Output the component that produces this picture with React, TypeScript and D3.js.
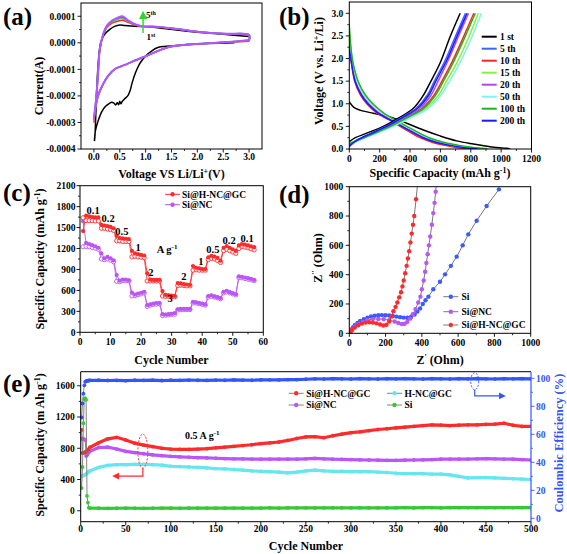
import React from 'react';
import * as d3 from 'd3';

const FONT = "'Liberation Serif','Times New Roman',Times,serif";
type Pt = [number, number];
const zip = (xs: number[], ys: number[]): Pt[] => xs.map((x, i) => [x, ys[i]] as Pt);

// ---------------- (a) cyclic voltammetry ----------------
const aTicksX = [0, 0.5, 1, 1.5, 2, 2.5, 3];
const aTicksY = [-0.0004, -0.0003, -0.0002, -0.0001, 0, 0.0001];
const cvCycle1: Pt[] = [
  [2.72, 0.0], [2.2, -0.03e-4], [1.7, -0.08e-4], [1.4, -0.13e-4], [1.25, -0.17e-4], [1.12, -0.3e-4],
  [1.0, -0.5e-4], [0.88, -0.8e-4], [0.8, -1.15e-4], [0.74, -1.5e-4], [0.7, -1.8e-4], [0.66, -1.98e-4],
  [0.6, -2.1e-4], [0.55, -2.2e-4], [0.52, -2.3e-4], [0.5, -2.2e-4], [0.48, -2.33e-4], [0.45, -2.26e-4],
  [0.42, -2.34e-4], [0.38, -2.26e-4], [0.34, -2.24e-4], [0.3, -2.28e-4], [0.22, -2.4e-4], [0.15, -2.6e-4],
  [0.08, -2.95e-4], [0.03, -3.3e-4], [0.01, -3.7e-4],
  [0.02, -3.5e-4], [0.04, -2.5e-4], [0.06, -1.5e-4], [0.09, -0.6e-4], [0.13, 0.0], [0.2, 0.3e-4],
  [0.3, 0.5e-4], [0.4, 0.62e-4], [0.5, 0.67e-4], [0.6, 0.65e-4], [0.8, 0.62e-4], [1.0, 0.61e-4],
  [1.3, 0.55e-4], [1.6, 0.48e-4], [2.0, 0.4e-4], [2.5, 0.32e-4], [3.0, 0.24e-4],
];
const cvCycle2: Pt[] = [
  [3.0, 0.06e-4], [2.72, 0.03e-4], [2.21, -0.02e-4], [1.76, -0.08e-4], [1.44, -0.17e-4], [1.18, -0.36e-4],
  [0.99, -0.52e-4], [0.79, -0.67e-4], [0.6, -0.83e-4], [0.41, -0.98e-4], [0.28, -1.24e-4], [0.18, -1.56e-4],
  [0.08, -2.02e-4], [0.03, -2.5e-4], [0.0, -3.0e-4],
  [0.01, -2.8e-4], [0.04, -2.25e-4], [0.08, -1.25e-4], [0.11, -0.35e-4], [0.18, 0.28e-4], [0.25, 0.58e-4],
  [0.35, 0.74e-4], [0.45, 0.81e-4], [0.55, 0.85e-4], [0.65, 0.78e-4], [0.78, 0.68e-4], [0.94, 0.61e-4],
  [1.2, 0.6e-4], [1.58, 0.52e-4], [2.1, 0.4e-4], [2.55, 0.33e-4], [3.0, 0.27e-4], [3.0, 0.06e-4],
];
const cvCycle3: Pt[] = [
  [3.0, 0.09e-4], [2.72, 0.04e-4], [2.21, -0.015e-4], [1.76, -0.075e-4], [1.44, -0.165e-4], [1.18, -0.35e-4],
  [0.99, -0.515e-4], [0.79, -0.665e-4], [0.6, -0.83e-4], [0.41, -0.98e-4], [0.28, -1.23e-4], [0.18, -1.55e-4],
  [0.08, -2.0e-4], [0.03, -2.45e-4], [0.0, -2.9e-4],
  [0.01, -2.7e-4], [0.04, -2.1e-4], [0.08, -1.1e-4], [0.11, -0.3e-4], [0.18, 0.32e-4], [0.25, 0.62e-4],
  [0.35, 0.79e-4], [0.45, 0.88e-4], [0.55, 0.92e-4], [0.65, 0.82e-4], [0.78, 0.7e-4], [0.94, 0.62e-4],
  [1.2, 0.61e-4], [1.58, 0.53e-4], [2.1, 0.4e-4], [2.55, 0.34e-4], [3.0, 0.29e-4], [3.0, 0.09e-4],
];
const cvCycle4: Pt[] = [
  [3.0, 0.1e-4], [2.72, 0.05e-4], [2.21, -0.015e-4], [1.76, -0.075e-4], [1.44, -0.165e-4], [1.18, -0.35e-4],
  [0.99, -0.515e-4], [0.79, -0.665e-4], [0.6, -0.83e-4], [0.41, -0.98e-4], [0.28, -1.23e-4], [0.18, -1.54e-4],
  [0.08, -1.98e-4], [0.03, -2.43e-4], [0.0, -2.87e-4],
  [0.01, -2.68e-4], [0.04, -2.15e-4], [0.08, -1.15e-4], [0.11, -0.29e-4], [0.18, 0.33e-4], [0.25, 0.64e-4],
  [0.35, 0.82e-4], [0.45, 0.92e-4], [0.55, 0.96e-4], [0.65, 0.85e-4], [0.78, 0.71e-4], [0.94, 0.62e-4],
  [1.2, 0.61e-4], [1.58, 0.53e-4], [2.1, 0.4e-4], [2.55, 0.34e-4], [3.0, 0.3e-4], [3.0, 0.1e-4],
];
const cvCycle5: Pt[] = [
  [3.0, 0.11e-4], [2.72, 0.05e-4], [2.21, -0.015e-4], [1.76, -0.075e-4], [1.44, -0.165e-4], [1.18, -0.35e-4],
  [0.99, -0.515e-4], [0.79, -0.665e-4], [0.6, -0.83e-4], [0.41, -0.98e-4], [0.28, -1.23e-4], [0.18, -1.54e-4],
  [0.08, -1.98e-4], [0.03, -2.42e-4], [0.0, -2.86e-4],
  [0.01, -2.67e-4], [0.04, -2.17e-4], [0.08, -1.17e-4], [0.11, -0.29e-4], [0.18, 0.34e-4], [0.25, 0.65e-4],
  [0.35, 0.84e-4], [0.45, 0.94e-4], [0.55, 1.0e-4], [0.65, 0.86e-4], [0.78, 0.71e-4], [0.94, 0.62e-4],
  [1.2, 0.61e-4], [1.58, 0.53e-4], [2.1, 0.4e-4], [2.55, 0.34e-4], [3.0, 0.3e-4], [3.0, 0.11e-4],
];

// ---------------- (b) charge / discharge profiles ----------------
const bTicksX = [0, 200, 400, 600, 800, 1000, 1200];
const bTicksY = [0, 0.5, 1, 1.5, 2, 2.5, 3];
const bLabels = ['1 st', '5 th', '10 th', '15 th', '20 th', '50 th', '100 th', '200 th'];
const bDis1: Pt[] = [[0, 1.05], [5, 1.02], [30, 0.92], [70, 0.86], [158, 0.79], [268, 0.71], [378, 0.57], [488, 0.42], [598, 0.29], [708, 0.18], [817, 0.11], [927, 0.05], [1037, 0.015], [1060, 0.0]];
const bDis5: Pt[] = [[0, 2.3], [12, 2.0], [40, 1.5], [80, 1.2], [125, 1.0], [190, 0.8], [300, 0.6], [410, 0.4], [500, 0.25], [590, 0.15], [690, 0.08], [790, 0.03], [870, 0.005]];
const bDis10: Pt[] = [[0, 2.25], [10, 2.0], [35, 1.5], [72, 1.2], [115, 1.0], [180, 0.8], [285, 0.6], [385, 0.4], [465, 0.25], [545, 0.15], [630, 0.08], [710, 0.03], [800, 0.005]];
const bDis15: Pt[] = [[0, 2.6], [18, 2.0], [55, 1.5], [100, 1.2], [150, 1.0], [220, 0.8], [320, 0.6], [430, 0.4], [520, 0.25], [610, 0.15], [710, 0.08], [810, 0.03], [900, 0.005]];
const bDis20: Pt[] = [[0, 2.3], [12, 2.0], [42, 1.5], [82, 1.2], [128, 1.0], [195, 0.8], [300, 0.6], [405, 0.4], [490, 0.25], [575, 0.15], [670, 0.08], [760, 0.03], [850, 0.005]];
const bDis50: Pt[] = [[0, 2.5], [15, 2.0], [50, 1.5], [95, 1.2], [145, 1.0], [215, 0.8], [315, 0.6], [425, 0.4], [515, 0.25], [600, 0.15], [700, 0.08], [800, 0.03], [890, 0.005]];
const bDis100: Pt[] = [[0, 2.75], [20, 2.0], [58, 1.5], [105, 1.2], [155, 1.0], [225, 0.8], [325, 0.6], [435, 0.4], [525, 0.25], [620, 0.15], [725, 0.08], [830, 0.03], [910, 0.005]];
const bDis200: Pt[] = [[0, 2.2], [10, 2.0], [38, 1.5], [78, 1.2], [122, 1.0], [188, 0.8], [295, 0.6], [400, 0.4], [485, 0.25], [570, 0.15], [665, 0.08], [755, 0.03], [845, 0.005]];
const bCha1: Pt[] = [[0, 0.16], [40, 0.25], [115, 0.35], [224, 0.5], [323, 0.68], [422, 0.9], [490, 1.2], [530, 1.45], [598, 1.9], [664, 2.48], [730, 3.0]];
const bCha5: Pt[] = [[0, 0.08], [50, 0.2], [130, 0.33], [240, 0.5], [345, 0.7], [440, 0.9], [515, 1.2], [560, 1.5], [630, 1.95], [700, 2.5], [765, 3.0]];
const bCha10: Pt[] = [[0, 0.1], [60, 0.2], [150, 0.33], [265, 0.5], [380, 0.7], [480, 0.9], [560, 1.2], [610, 1.5], [680, 1.95], [755, 2.5], [820, 3.0]];
const bCha15: Pt[] = [[0, 0.1], [65, 0.2], [160, 0.33], [280, 0.5], [395, 0.7], [505, 0.9], [590, 1.2], [640, 1.5], [715, 1.95], [790, 2.5], [850, 3.0]];
const bCha20: Pt[] = [[0, 0.05], [60, 0.2], [145, 0.33], [255, 0.5], [365, 0.7], [465, 0.9], [540, 1.2], [585, 1.5], [650, 1.95], [720, 2.5], [785, 3.0]];
const bCha50: Pt[] = [[0, 0.08], [70, 0.2], [170, 0.33], [290, 0.5], [410, 0.7], [520, 0.9], [605, 1.2], [660, 1.5], [735, 1.95], [810, 2.5], [870, 3.0]];
const bCha100: Pt[] = [[0, 0.12], [60, 0.2], [155, 0.33], [270, 0.5], [385, 0.7], [490, 0.9], [570, 1.2], [620, 1.5], [690, 1.95], [765, 2.5], [830, 3.0]];
const bCha200: Pt[] = [[0, 0.07], [55, 0.2], [135, 0.33], [245, 0.5], [352, 0.7], [450, 0.9], [525, 1.2], [570, 1.5], [640, 1.95], [710, 2.5], [775, 3.0]];
const bDischarge = [bDis1, bDis5, bDis10, bDis15, bDis20, bDis50, bDis100, bDis200];
const bCharge = [bCha1, bCha5, bCha10, bCha15, bCha20, bCha50, bCha100, bCha200];
const bColors = ['#000000', '#3f63ff', '#ff2424', '#86f23a', '#b247f2', '#7ef2f2', '#22b322', '#1a1aff'];

// ---------------- (c) rate capability ----------------
const cTicksX = [0, 10, 20, 30, 40, 50, 60];
const cTicksY = [0, 300, 600, 900, 1200, 1500, 1800, 2100];
const cCycles = d3.range(1, 58);
const cHNCDis = [1450, 1670, 1660, 1650, 1645, 1645, 1540, 1530, 1520, 1510, 1490, 1380, 1350, 1345, 1340, 1335, 1165, 1130, 1120, 1110, 1100, 845, 755, 750, 750, 750, 590, 535, 530, 525, 520, 705, 700, 690, 685, 680, 950, 925, 915, 905, 905, 1075, 1095, 1085, 1065, 1025, 1210, 1235, 1210, 1190, 1165, 1245, 1265, 1255, 1245, 1230, 1220];
const cHNCCha = [1640, 1600, 1600, 1600, 1595, 1595, 1490, 1490, 1480, 1470, 1460, 1310, 1310, 1300, 1300, 1300, 1080, 1090, 1080, 1075, 1070, 735, 735, 735, 735, 735, 520, 515, 515, 510, 510, 670, 675, 670, 665, 665, 890, 895, 890, 890, 890, 1040, 1060, 1050, 1030, 1000, 1170, 1190, 1170, 1150, 1130, 1200, 1230, 1220, 1210, 1195, 1180];
const cNCDis = [1590, 1280, 1265, 1250, 1230, 1210, 1130, 1060, 1080, 1060, 1030, 820, 740, 755, 755, 745, 570, 540, 555, 565, 580, 390, 400, 410, 420, 420, 260, 255, 260, 265, 275, 330, 335, 335, 335, 335, 435, 430, 420, 410, 400, 520, 530, 515, 505, 490, 580, 595, 575, 560, 545, 800, 795, 785, 775, 765, 750];
const cNCCha = [1225, 1230, 1225, 1215, 1205, 1190, 1050, 1040, 1050, 1035, 1010, 730, 725, 740, 740, 735, 520, 525, 540, 550, 565, 370, 390, 400, 405, 410, 240, 245, 250, 255, 260, 320, 325, 325, 325, 325, 420, 420, 410, 400, 390, 505, 515, 505, 495, 480, 565, 580, 565, 550, 535, 785, 780, 770, 760, 750, 740];
const cRateText = ['0.1', '0.2', '0.5', '1', '2', '3', '2', '1', '0.5', '0.2', '0.1'];
const cRateAtCycle = [4.3, 9.2, 13.7, 19, 23.2, 29.5, 34, 39.6, 43.5, 48.8, 54.7];
const cRateAtCap = [1742, 1623, 1451, 1208, 854, 491, 797, 1011, 1193, 1322, 1337];

// ---------------- (d) Nyquist ----------------
const dTicks = [0, 200, 400, 600, 800, 1000];
const dSiRe = [5, 10, 20, 30, 45, 60, 80, 100, 120, 140, 160, 180, 200, 220, 240, 260, 280, 300, 320, 340, 360, 375, 390, 405, 420, 436, 463, 500, 528, 560, 592, 625, 656, 702, 757, 825];
const dSiIm = [10, 25, 40, 55, 70, 85, 97, 107, 115, 120, 123, 124, 123, 121, 118, 114, 110, 107, 106, 112, 128, 148, 170, 200, 225, 250, 300, 352, 402, 460, 523, 600, 675, 768, 868, 982];
const dNCRe = [5, 15, 30, 50, 75, 100, 130, 160, 190, 220, 250, 270, 290, 305, 320, 335, 350, 365, 380, 392, 400, 410, 418, 425, 432, 439, 446, 455, 463, 470, 476, 482];
const dNCIm = [10, 25, 45, 62, 78, 90, 97, 98, 96, 90, 80, 70, 63, 65, 78, 100, 130, 165, 210, 250, 300, 360, 420, 480, 540, 600, 660, 740, 820, 890, 966, 1040];
const dHNCRe = [5, 15, 30, 50, 70, 90, 110, 130, 150, 170, 188, 205, 220, 232, 243, 255, 265, 275, 285, 293, 300, 308, 316, 323, 330, 337, 344, 351, 358, 368, 380];
const dHNCIm = [8, 22, 40, 55, 66, 73, 75, 73, 68, 60, 53, 58, 80, 115, 150, 180, 210, 245, 280, 320, 360, 410, 460, 510, 560, 620, 680, 740, 800, 914, 1060];

// ---------------- (e) long cycling ----------------
const eTicksX = [0, 50, 100, 150, 200, 250, 300, 350, 400, 450, 500];
const eTicksL = [0, 400, 800, 1200, 1600];
const eTicksR = [0, 20, 40, 60, 80, 100];
const eCycles = [1, 2, 3, 4, 5, 6, 7, 8, 9, 10, 20, 30, 40, 50, 60, 70, 80, 90, 100, 110, 120, 130, 140, 150, 160, 170, 180, 190, 200, 210, 220, 230, 240, 250, 260, 270, 280, 290, 300, 310, 320, 330, 340, 350, 360, 370, 380, 390, 400, 410, 420, 430, 440, 450, 460, 470, 480, 490, 500];
const eHNC = [1035, 740, 740, 745, 750, 760, 770, 780, 790, 810, 870, 920, 940, 905, 865, 840, 820, 800, 790, 785, 785, 790, 795, 805, 815, 825, 835, 845, 860, 870, 880, 900, 925, 945, 950, 935, 960, 980, 1000, 1010, 1025, 1040, 1050, 1060, 1070, 1080, 1090, 1100, 1095, 1090, 1095, 1100, 1100, 1105, 1110, 1120, 1095, 1080, 1080];
const eNC = [920, 925, 920, 915, 905, 700, 710, 730, 750, 760, 810, 815, 790, 760, 745, 730, 715, 705, 695, 690, 685, 680, 676, 672, 668, 665, 663, 662, 660, 660, 660, 660, 662, 665, 670, 665, 660, 658, 655, 652, 650, 648, 645, 645, 648, 650, 652, 655, 660, 660, 660, 662, 665, 668, 665, 662, 660, 655, 650];
const eHNCGC = [450, 445, 450, 455, 460, 470, 480, 490, 500, 510, 555, 580, 590, 590, 595, 595, 590, 585, 570, 565, 560, 555, 548, 540, 535, 528, 520, 510, 505, 500, 495, 485, 495, 510, 520, 510, 505, 505, 500, 500, 500, 495, 490, 480, 475, 475, 475, 470, 470, 460, 440, 420, 425, 425, 420, 415, 410, 405, 400];
const eSi = [290, 560, 1120, 1430, 1440, 1420, 190, 105, 40, 35, 32, 31, 32, 33, 32, 31, 32, 33, 33, 32, 33, 34, 33, 34, 34, 35, 34, 35, 35, 36, 35, 36, 36, 37, 36, 37, 37, 38, 37, 38, 38, 37, 38, 38, 39, 38, 39, 39, 38, 39, 39, 40, 39, 40, 40, 39, 40, 40, 40];
const eCE = [72, 82, 89, 95, 97.5, 98, 98.2, 98.3, 98.4, 98.5, 98.6, 98.4, 98.5, 98.3, 98.6, 98.5, 98.7, 98.4, 98.6, 98.5, 98.7, 98.6, 98.5, 98.7, 98.6, 98.8, 98.7, 98.6, 98.8, 98.9, 98.8, 99.0, 99.1, 99.3, 99.6, 99.5, 99.7, 99.6, 99.5, 99.7, 99.6, 99.5, 99.7, 99.6, 99.8, 99.6, 99.5, 99.7, 99.6, 99.5, 99.7, 99.6, 99.8, 99.6, 99.5, 99.7, 99.6, 99.7, 99.6];

// ---------------- helpers ----------------
const TXT: React.CSSProperties = { fontFamily: FONT, fontWeight: 700 };

function XAxis({ s, y, ticks, minor, fmt, dy, color = '#000' }: any) {
  return (
    <g>
      {minor.map((t: number, i: number) => (
        <line key={'m' + i} x1={s(t)} x2={s(t)} y1={y} y2={y + 2} stroke={color} strokeWidth={0.8} />
      ))}
      {ticks.map((t: number, i: number) => (
        <g key={'t' + i}>
          <line x1={s(t)} x2={s(t)} y1={y} y2={y + 3.5} stroke={color} strokeWidth={0.9} />
          <text x={s(t)} y={y + dy} textAnchor="middle" fontSize={9.5} fill={color} style={TXT}>{fmt(t)}</text>
        </g>
      ))}
    </g>
  );
}

function YAxis({ s, x, ticks, minor, fmt, gap, color = '#000', side = 'left' }: any) {
  const dir = side === 'left' ? -1 : 1;
  return (
    <g>
      {minor.map((t: number, i: number) => (
        <line key={'m' + i} x1={x} x2={x + dir * 2} y1={s(t)} y2={s(t)} stroke={color} strokeWidth={0.8} />
      ))}
      {ticks.map((t: number, i: number) => (
        <g key={'t' + i}>
          <line x1={x} x2={x + dir * 3.5} y1={s(t)} y2={s(t)} stroke={color} strokeWidth={0.9} />
          <text x={x + dir * gap} y={s(t) + 3.3} textAnchor={side === 'left' ? 'end' : 'start'} fontSize={9.5} fill={color} style={TXT}>{fmt(t)}</text>
        </g>
      ))}
    </g>
  );
}

function VTitle({ x, y, children, color = '#000', size = 12 }: any) {
  return (
    <text transform={`translate(${x},${y}) rotate(-90)`} textAnchor="middle" fontSize={size} fill={color} style={TXT}>{children}</text>
  );
}

function minorBetween(ticks: number[]) {
  const out: number[] = [];
  for (let i = 0; i < ticks.length - 1; i++) out.push((ticks[i] + ticks[i + 1]) / 2);
  return out;
}

export default function App() {
  // ---- scales ----
  const aX = d3.scaleLinear().domain([-0.25, 3.25]).range([81, 262]);
  const aY = d3.scaleLinear().domain([-0.0004, 0.00015]).range([149, 3]);
  const bX = d3.scaleLinear().domain([0, 1200]).range([349.3, 531.5]);
  const bY = d3.scaleLinear().domain([0, 3.25]).range([149, 2]);
  const cX = d3.scaleLinear().domain([0, 60]).range([80, 263.3]);
  const cY = d3.scaleLinear().domain([0, 2100]).range([332.3, 185.7]);
  const dX = d3.scaleLinear().domain([0, 1000]).range([349.3, 530.7]);
  const dY = d3.scaleLinear().domain([0, 1000]).range([333.3, 186.7]);
  const eX = d3.scaleLinear().domain([0, 500]).range([80.7, 531]);
  const eYL = d3.scaleLinear().domain([-140, 1780]).range([521.7, 371.7]);
  const eYR = d3.scaleLinear().domain([-2.4, 104.7]).range([521.7, 371.7]);

  const smooth = (sx: any, sy: any) => d3.line<Pt>().x(d => sx(d[0])).y(d => sy(d[1])).curve(d3.curveCatmullRom.alpha(0.5));
  const straight = (sx: any, sy: any) => d3.line<Pt>().x(d => sx(d[0])).y(d => sy(d[1]));

  const aLine = smooth(aX, aY);
  const bLine = smooth(bX, bY);
  const cLine = straight(cX, cY);
  const dLine = straight(dX, dY);
  const eLineL = straight(eX, eYL);
  const eLineR = straight(eX, eYR);

  const RED = '#ff2b2b';
  const PURPLE = '#bb55f5';
  const BLUE = '#3355ff';
  const CYAN = '#66e6ee';
  const GREEN = '#35c935';

  const box = (sx: any, sy: any, stroke = '#000') => (
    <rect x={sx.range()[0]} y={sy.range()[1]} width={sx.range()[1] - sx.range()[0]} height={sy.range()[0] - sy.range()[1]} fill="none" stroke={stroke} strokeWidth={1} />
  );

  const eSeries = [
    { vals: eHNCGC, color: CYAN },
    { vals: eNC, color: PURPLE },
    { vals: eHNC, color: RED },
    { vals: eSi, color: GREEN },
  ];

  return (
    <svg width={567} height={554} style={{ position: 'absolute', left: 0, top: 0, background: '#fff' }} fontFamily={FONT}>
      <defs>
        <clipPath id="clipA"><rect x={81} y={3} width={181} height={146} /></clipPath>
        <clipPath id="clipB"><rect x={349.3} y={2} width={182.2} height={147} /></clipPath>
        <clipPath id="clipC"><rect x={80} y={185.7} width={183.3} height={146.6} /></clipPath>
        <clipPath id="clipD"><rect x={349.3} y={186.7} width={181.4} height={146.6} /></clipPath>
        <clipPath id="clipE"><rect x={80.7} y={371.7} width={450.3} height={150} /></clipPath>
        <marker id="arrG" markerWidth={6} markerHeight={6} refX={3} refY={3} orient="auto">
          <path d="M0,0 L6,3 L0,6 z" fill="#22dd22" />
        </marker>
        <marker id="arrR" markerWidth={6} markerHeight={6} refX={3} refY={3} orient="auto">
          <path d="M0,0 L6,3 L0,6 z" fill={RED} />
        </marker>
        <marker id="arrB" markerWidth={6} markerHeight={6} refX={3} refY={3} orient="auto">
          <path d="M0,0 L6,3 L0,6 z" fill={BLUE} />
        </marker>
      </defs>
      <rect x={0} y={0} width={567} height={554} fill="#fff" />

      {/* ================= (a) ================= */}
      <text x={3} y={25} fontSize={25} style={TXT}>(a)</text>
      <g clipPath="url(#clipA)">
        {[cvCycle1, cvCycle2, cvCycle3, cvCycle4, cvCycle5].map((c, i) => (
          <path key={i} d={aLine(c) || ''} fill="none" stroke={['#000', '#ff2020', '#33e033', '#4f6bff', '#b455ff'][i]} strokeWidth={i === 4 ? 2 : 1.5} />
        ))}
      </g>
      {box(aX, aY)}
      <XAxis s={aX} y={149} ticks={aTicksX} minor={minorBetween(aTicksX)} fmt={(t: number) => t.toFixed(1)} dy={10.5} />
      <YAxis s={aY} x={81} ticks={aTicksY} minor={minorBetween(aTicksY)} fmt={(t: number) => t.toFixed(4)} gap={5.5} />
      <line x1={aX(0.95)} x2={aX(0.95)} y1={33} y2={15} stroke="#22dd22" strokeWidth={1.4} markerEnd="url(#arrG)" />
      <text x={146} y={18} fontSize={9} style={TXT}>5<tspan dy={-3} fontSize={6}>th</tspan></text>
      <text x={146.5} y={40} fontSize={9} style={TXT}>1<tspan dy={-3} fontSize={6}>st</tspan></text>
      <text x={171.5} y={178} textAnchor="middle" fontSize={12} style={TXT}>
        Voltage VS Li/Li<tspan dy={-4} fontSize={8}>+</tspan><tspan dy={4}>(V)</tspan>
      </text>
      <VTitle x={43} y={86}>Current(A)</VTitle>

      {/* ================= (b) ================= */}
      <text x={279} y={25} fontSize={25} style={TXT}>(b)</text>
      <g clipPath="url(#clipB)">
        {bDischarge.map((c, i) => (
          <path key={'d' + i} d={bLine(c) || ''} fill="none" stroke={bColors[i]} strokeWidth={1.5} />
        ))}
        {bCharge.map((c, i) => (
          <path key={'c' + i} d={bLine(c) || ''} fill="none" stroke={bColors[i]} strokeWidth={1.5} />
        ))}
      </g>
      {box(bX, bY)}
      <XAxis s={bX} y={149} ticks={bTicksX} minor={minorBetween(bTicksX)} fmt={(t: number) => String(t)} dy={12.5} />
      <YAxis s={bY} x={349.3} ticks={bTicksY} minor={minorBetween(bTicksY)} fmt={(t: number) => t.toFixed(1)} gap={6} />
      {bLabels.map((l, i) => (
        <g key={l}>
          <line x1={481.7} x2={496.7} y1={36.7 + 12 * i} y2={36.7 + 12 * i} stroke={bColors[i]} strokeWidth={2} />
          <text x={500} y={40 + 12 * i} fontSize={9.5} style={TXT}>{l}</text>
        </g>
      ))}
      <text x={440} y={177} textAnchor="middle" fontSize={12} style={TXT}>
        Specific Capacity (mAh g<tspan dy={-4} fontSize={8}>-1</tspan><tspan dy={4}>)</tspan>
      </text>
      <VTitle x={323} y={71}>
        Voltage (V vs. Li<tspan dy={-4} fontSize={8}>+</tspan><tspan dy={4}>/Li)</tspan>
      </VTitle>

      {/* ================= (c) ================= */}
      <text x={3} y={201} fontSize={25} style={TXT}>(c)</text>
      <g clipPath="url(#clipC)">
        <path d={cLine(zip(cCycles, cNCCha)) || ''} fill="none" stroke={PURPLE} strokeWidth={0.8} />
        <path d={cLine(zip(cCycles, cNCDis)) || ''} fill="none" stroke={PURPLE} strokeWidth={0.9} />
        {cCycles.map((c, i) => (
          <circle key={'nco' + i} cx={cX(c)} cy={cY(cNCCha[i])} r={2.1} fill="#fff" stroke={PURPLE} strokeWidth={0.9} />
        ))}
        {cCycles.map((c, i) => (
          <circle key={'ncf' + i} cx={cX(c)} cy={cY(cNCDis[i])} r={2.1} fill={PURPLE} />
        ))}
        <path d={cLine(zip(cCycles, cHNCCha)) || ''} fill="none" stroke={RED} strokeWidth={0.8} />
        <path d={cLine(zip(cCycles, cHNCDis)) || ''} fill="none" stroke={RED} strokeWidth={0.9} />
        {cCycles.map((c, i) => (
          <circle key={'ho' + i} cx={cX(c)} cy={cY(cHNCCha[i])} r={2.1} fill="#fff" stroke={RED} strokeWidth={0.9} />
        ))}
        {cCycles.map((c, i) => (
          <circle key={'hf' + i} cx={cX(c)} cy={cY(cHNCDis[i])} r={2.1} fill={RED} />
        ))}
      </g>
      {box(cX, cY)}
      <XAxis s={cX} y={332.3} ticks={cTicksX} minor={minorBetween(cTicksX)} fmt={(t: number) => String(t)} dy={12.5} />
      <YAxis s={cY} x={80} ticks={cTicksY} minor={minorBetween(cTicksY)} fmt={(t: number) => String(t)} gap={4.5} />
      {cRateText.map((t, i) => (
        <text key={'r' + i} x={cX(cRateAtCycle[i])} y={cY(cRateAtCap[i]) + 3.5} textAnchor="middle" fontSize={10.5} style={TXT}>{t}</text>
      ))}
      <text x={cX(28.5)} y={cY(1179) + 3.5} textAnchor="middle" fontSize={10.5} style={TXT}>
        A g<tspan dy={-4} fontSize={7}>-1</tspan>
      </text>
      {[{ l: 'Si@H-NC@GC', c: RED, y: 194.3 }, { l: 'Si@NC', c: PURPLE, y: 204.7 }].map(e => (
        <g key={e.l}>
          <line x1={165} x2={180} y1={e.y} y2={e.y} stroke={e.c} strokeWidth={1} />
          <circle cx={172.5} cy={e.y} r={2.2} fill={e.c} />
          <text x={182} y={e.y + 3.3} fontSize={9.5} style={TXT}>{e.l}</text>
        </g>
      ))}
      <text x={171.5} y={364} textAnchor="middle" fontSize={12} style={TXT}>Cycle Number</text>
      <VTitle x={44} y={259}>
        Specific Capacity (mAh g<tspan dy={-4} fontSize={8}>-1</tspan><tspan dy={4}>)</tspan>
      </VTitle>

      {/* ================= (d) ================= */}
      <text x={279} y={203} fontSize={25} style={TXT}>(d)</text>
      <g clipPath="url(#clipD)">
        {[
          { re: dSiRe, im: dSiIm, c: '#3a5bff' },
          { re: dNCRe, im: dNCIm, c: PURPLE },
          { re: dHNCRe, im: dHNCIm, c: RED },
        ].map((s, k) => (
          <g key={k}>
            <path d={dLine(zip(s.re, s.im)) || ''} fill="none" stroke="#555" strokeWidth={0.8} />
            {s.re.map((r, i) => (
              <circle key={i} cx={dX(r)} cy={dY(s.im[i])} r={2.2} fill={s.c} />
            ))}
          </g>
        ))}
      </g>
      {box(dX, dY)}
      <XAxis s={dX} y={333.3} ticks={dTicks} minor={minorBetween(dTicks)} fmt={(t: number) => String(t)} dy={12.5} />
      <YAxis s={dY} x={349.3} ticks={dTicks} minor={minorBetween(dTicks)} fmt={(t: number) => String(t)} gap={6} />
      {[{ l: 'Si', c: '#3a5bff', y: 296.7 }, { l: 'Si@NC', c: PURPLE, y: 311.7 }, { l: 'Si@H-NC@GC', c: RED, y: 325 }].map(e => (
        <g key={e.l}>
          <line x1={443.3} x2={458.3} y1={e.y} y2={e.y} stroke="#555" strokeWidth={0.8} />
          <circle cx={450.8} cy={e.y} r={2.2} fill={e.c} />
          <text x={461.5} y={e.y + 3.3} fontSize={9.5} style={TXT}>{e.l}</text>
        </g>
      ))}
      <text x={440} y={364} textAnchor="middle" fontSize={12} style={TXT}>
        Z<tspan dy={-4} fontSize={8}>'</tspan><tspan dy={4}> (Ohm)</tspan>
      </text>
      <VTitle x={322} y={258}>
        Z<tspan dy={-4} fontSize={8}>''</tspan><tspan dy={4}> (Ohm)</tspan>
      </VTitle>

      {/* ================= (e) ================= */}
      <text x={3} y={392} fontSize={25} style={TXT}>(e)</text>
      <g clipPath="url(#clipE)">
        {eSeries.map((s, k) => (
          <g key={k}>
            <path d={eLineL(zip(eCycles, s.vals)) || ''} fill="none" stroke="#777" strokeWidth={0.9} />
            <path d={eLineL(zip(eCycles.slice(9), s.vals.slice(9))) || ''} fill="none" stroke={s.color} strokeWidth={3.2} />
            {eCycles.map((c, i) => (
              <circle key={i} cx={eX(c)} cy={eYL(s.vals[i])} r={1.9} fill={s.color} />
            ))}
          </g>
        ))}
        <path d={eLineR(zip(eCycles, eCE)) || ''} fill="none" stroke="#777" strokeWidth={0.9} />
        <path d={eLineR(zip(eCycles.slice(4), eCE.slice(4))) || ''} fill="none" stroke={BLUE} strokeWidth={3.2} />
        {eCycles.map((c, i) => (
          <circle key={'ce' + i} cx={eX(c)} cy={eYR(eCE[i])} r={1.9} fill={BLUE} />
        ))}
      </g>
      <line x1={80.7} x2={531} y1={371.7} y2={371.7} stroke="#000" />
      <line x1={80.7} x2={531} y1={521.7} y2={521.7} stroke="#000" />
      <line x1={80.7} x2={80.7} y1={371.7} y2={521.7} stroke="#000" />
      <line x1={531} x2={531} y1={371.7} y2={521.7} stroke={BLUE} strokeWidth={1.2} />
      <XAxis s={eX} y={521.7} ticks={eTicksX} minor={minorBetween(eTicksX)} fmt={(t: number) => String(t)} dy={10} />
      <YAxis s={eYL} x={80.7} ticks={eTicksL} minor={minorBetween(eTicksL)} fmt={(t: number) => String(t)} gap={6} />
      <YAxis s={eYR} x={531} ticks={eTicksR} minor={minorBetween(eTicksR)} fmt={(t: number) => String(t)} gap={5} color={BLUE} side="right" />
      {[
        { l: 'Si@H-NC@GC', c: RED, x: 288.7, y: 393.3 },
        { l: 'Si@NC', c: PURPLE, x: 288.7, y: 405 },
        { l: 'H-NC@GC', c: CYAN, x: 387, y: 393.3 },
        { l: 'Si', c: GREEN, x: 387, y: 405 },
      ].map(e => (
        <g key={e.l}>
          <line x1={e.x} x2={e.x + 15} y1={e.y} y2={e.y} stroke="#777" strokeWidth={0.9} />
          <circle cx={e.x + 7.5} cy={e.y} r={2.2} fill={e.c} />
          <text x={e.x + 17.5} y={e.y + 3.3} fontSize={9.5} style={TXT}>{e.l}</text>
        </g>
      ))}
      <text x={eX(135)} y={eYL(969) + 3.5} textAnchor="middle" fontSize={10} style={TXT}>
        0.5 A g<tspan dy={-4} fontSize={7}>-1</tspan>
      </text>
      {/* red dashed ellipse + arrow to left axis */}
      <ellipse cx={eX(69)} cy={eYL(764)} rx={5} ry={17} fill="none" stroke={RED} strokeWidth={1} strokeDasharray="2,1.5" />
      <polyline points={`${eX(69)},${eYL(764) + 17} ${eX(69)},${eYL(444)} ${eX(39)},${eYL(444)}`} fill="none" stroke={RED} strokeWidth={1.2} markerEnd="url(#arrR)" />
      {/* blue dashed ellipse + arrow to right axis */}
      <ellipse cx={eX(437.5)} cy={eYR(97.9)} rx={4} ry={8.5} fill="none" stroke={BLUE} strokeWidth={1} strokeDasharray="2,1.5" />
      <polyline points={`${eX(437.5)},${eYR(97.9) + 8.5} ${eX(437.5)},${eYR(87.4)} ${eX(468)},${eYR(87.4)}`} fill="none" stroke={BLUE} strokeWidth={1.2} markerEnd="url(#arrB)" />
      <text x={306} y={550} textAnchor="middle" fontSize={12} style={TXT}>Cycle Number</text>
      <VTitle x={44} y={445}>
        Specific Capacity (m Ah g<tspan dy={-4} fontSize={8}>-1</tspan><tspan dy={4}>)</tspan>
      </VTitle>
      <VTitle x={563} y={443} color={BLUE} size={12.5}>Coulombic Efficiency (%)</VTitle>
    </svg>
  );
}
